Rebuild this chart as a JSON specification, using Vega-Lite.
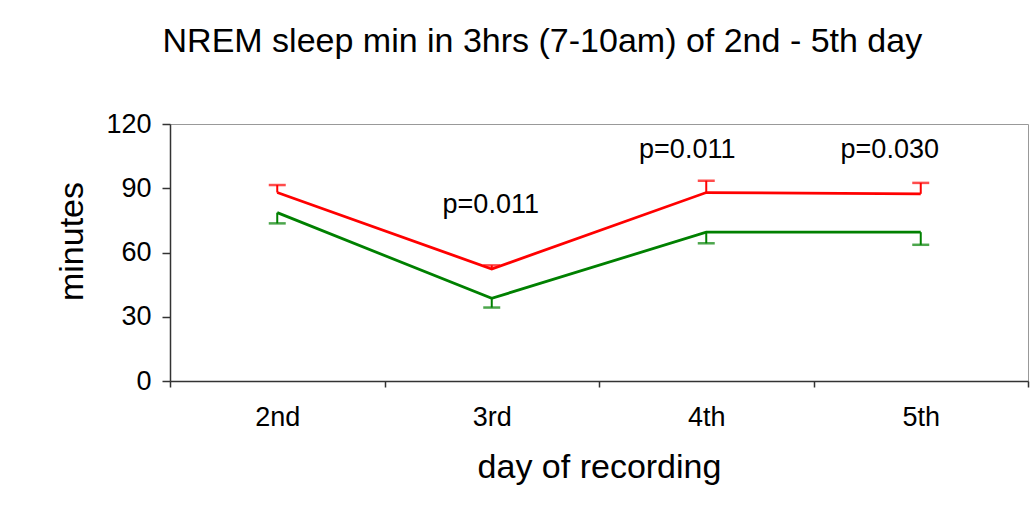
{
  "$schema": "https://vega.github.io/schema/vega-lite/v6.json",
  "width": 858,
  "height": 257,
  "autosize": {"type": "none"},
  "padding": {"left": 170, "top": 124, "right": 3, "bottom": 133},
  "background": "white",
  "title": {
    "text": "NREM sleep min in 3hrs (7-10am) of 2nd - 5th day",
    "anchor": "middle",
    "frame": "bounds",
    "font": "Liberation Sans",
    "fontSize": 34,
    "fontWeight": "normal",
    "color": "black",
    "baseline": "alphabetic",
    "offset": 24
  },
  "config": {
    "view": {"stroke": "#999999", "strokeWidth": 1},
    "font": "Liberation Sans",
    "axis": {
      "domainColor": "#333333",
      "domainWidth": 1.5,
      "tickColor": "#333333",
      "tickWidth": 1.5,
      "labelFont": "Liberation Sans",
      "labelColor": "black",
      "labelFontSize": 27,
      "titleFont": "Liberation Sans",
      "titleFontSize": 34,
      "titleFontWeight": "normal",
      "titleColor": "black",
      "grid": false
    }
  },
  "datasets": {
    "series": [
      {"day": "2nd", "group": "group 1", "minutes": 88, "err": 91.5},
      {"day": "3rd", "group": "group 1", "minutes": 52.3, "err": 54},
      {"day": "4th", "group": "group 1", "minutes": 88, "err": 93.5},
      {"day": "5th", "group": "group 1", "minutes": 87.4, "err": 92.5},
      {"day": "2nd", "group": "group 2", "minutes": 78.6, "err": 73.6},
      {"day": "3rd", "group": "group 2", "minutes": 38.6, "err": 34.3},
      {"day": "4th", "group": "group 2", "minutes": 69.5, "err": 64.3},
      {"day": "5th", "group": "group 2", "minutes": 69.5, "err": 63.6}
    ],
    "pvalues": [
      {"day": "3rd", "y": 82, "label": "p=0.011"},
      {"day": "4th", "y": 108, "label": "p=0.011"},
      {"day": "5th", "y": 108, "label": "p=0.030"}
    ]
  },
  "encoding": {
    "x": {
      "field": "day",
      "type": "nominal",
      "sort": ["2nd", "3rd", "4th", "5th"],
      "scale": {"type": "band", "domain": ["2nd", "3rd", "4th", "5th"], "paddingInner": 0, "paddingOuter": 0},
      "axis": {
        "title": "day of recording",
        "labelAngle": 0,
        "tickBand": "extent",
        "tickSize": 6,
        "labelPadding": 17,
        "titlePadding": 20
      }
    }
  },
  "layer": [
    {
      "data": {"name": "series"},
      "mark": {"type": "rule", "strokeWidth": 2},
      "encoding": {
        "y": {"field": "minutes", "type": "quantitative"},
        "y2": {"field": "err"},
        "color": {"field": "group", "type": "nominal", "scale": {"domain": ["group 1", "group 2"], "range": ["#ff0000", "#008000"]}, "legend": null}
      }
    },
    {
      "data": {"name": "series"},
      "mark": {"type": "tick", "size": 17, "thickness": 2.5, "orient": "horizontal"},
      "encoding": {
        "y": {"field": "err", "type": "quantitative"},
        "color": {"field": "group", "type": "nominal", "scale": {"domain": ["group 1", "group 2"], "range": ["#ff0000", "#008000"]}, "legend": null}
      }
    },
    {
      "data": {"name": "series"},
      "mark": {"type": "line", "strokeWidth": 2.8},
      "encoding": {
        "y": {
          "field": "minutes",
          "type": "quantitative",
          "scale": {"domain": [0, 120], "nice": false},
          "axis": {
            "title": "minutes",
            "values": [0, 30, 60, 90, 120],
            "tickSize": 8,
            "labelPadding": 11,
            "titlePadding": 16,
            "titleY": 117
          }
        },
        "color": {"field": "group", "type": "nominal", "scale": {"domain": ["group 1", "group 2"], "range": ["#ff0000", "#008000"]}, "legend": null}
      }
    },
    {
      "data": {"name": "pvalues"},
      "transform": [{"filter": "datum.day == '3rd'"}],
      "mark": {"type": "text", "fontSize": 27, "font": "Liberation Sans", "color": "black", "baseline": "middle", "align": "center", "dx": -1},
      "encoding": {
        "y": {"field": "y", "type": "quantitative"},
        "text": {"field": "label"}
      }
    },
    {
      "data": {"name": "pvalues"},
      "transform": [{"filter": "datum.day == '4th'"}],
      "mark": {"type": "text", "fontSize": 27, "font": "Liberation Sans", "color": "black", "baseline": "middle", "align": "center", "dx": -19},
      "encoding": {
        "y": {"field": "y", "type": "quantitative"},
        "text": {"field": "label"}
      }
    },
    {
      "data": {"name": "pvalues"},
      "transform": [{"filter": "datum.day == '5th'"}],
      "mark": {"type": "text", "fontSize": 27, "font": "Liberation Sans", "color": "black", "baseline": "middle", "align": "center", "dx": -31},
      "encoding": {
        "y": {"field": "y", "type": "quantitative"},
        "text": {"field": "label"}
      }
    }
  ]
}
